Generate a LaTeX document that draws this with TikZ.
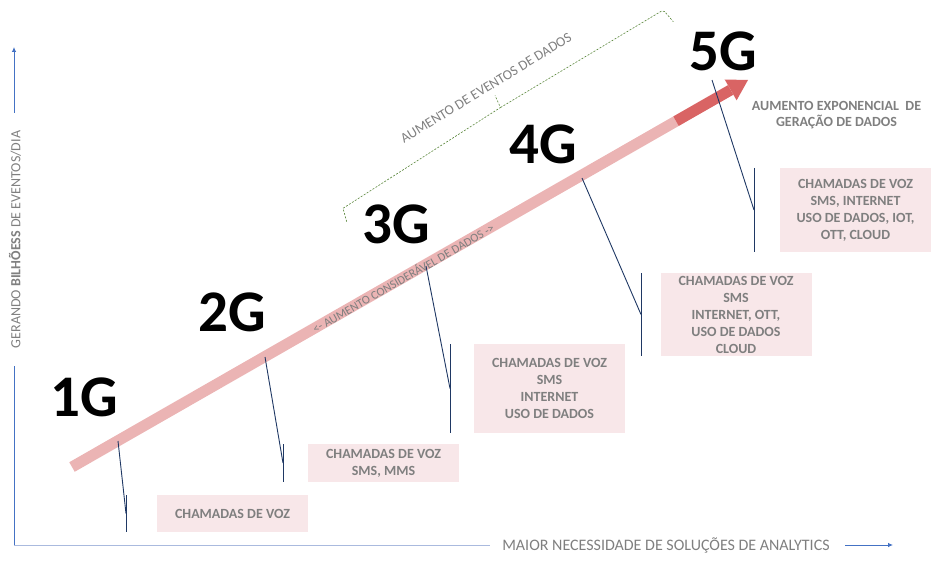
\documentclass[tikz,border=0pt]{standalone}
\usepackage{fontspec}
\setmainfont{Carlito}
\usetikzlibrary{arrows.meta}
\definecolor{pinkline}{RGB}{235,180,180}
\definecolor{redline}{RGB}{217,100,100}
\definecolor{boxfill}{RGB}{248,231,233}
\definecolor{txtgray}{RGB}{127,127,127}
\definecolor{navy}{RGB}{31,56,100}
\definecolor{axisblue}{RGB}{68,114,196}
\definecolor{axislight}{RGB}{170,186,222}
\definecolor{braceg}{RGB}{84,130,53}
\begin{document}
\begin{tikzpicture}[x=1pt,y=-1pt,
  gen/.style={font=\fontsize{59}{60}\selectfont\bfseries, inner sep=0pt, text=black},
  infobox/.style={fill=boxfill, minimum width=151pt, inner sep=0pt, align=center, text=txtgray, font=\fontsize{14}{17}\selectfont\bfseries},
  callout/.style={draw=navy, line width=0.9pt},
  axisline/.style={draw=axisblue, line width=0.8pt},
  axistip/.style={-{Latex[length=5pt,width=4.5pt]}},
  glabel/.style={text=txtgray, inner sep=0pt},
  bracestyle/.style={draw=braceg, line width=0.6pt, dash pattern=on 2pt off 1.5pt, line join=round}]
\useasboundingbox (0,0) rectangle (931,564);

% axes
\coordinate (O) at (14,545);
\coordinate (ytop) at (14,47);
\coordinate (yg1) at (14,366);
\coordinate (yg2) at (14,113);
\coordinate (xg1) at (490,545);
\coordinate (xg2) at (845,545);
\coordinate (xend) at (893,545);
\draw[axisline] (O) -- (yg1);
\draw[axisline, axistip] (yg2) -- (ytop);
\draw[axisline, draw=axislight] (O) -- (xg1);
\draw[axisline, axistip] (xg2) -- (xend);
\node[glabel, rotate=90, font=\fontsize{14}{14}\selectfont] (ylab) at (15,239.5) {GERANDO \textbf{BILHÕESS} DE EVENTOS/DIA};
\node[glabel, font=\fontsize{16}{16}\selectfont] (xlab) at (666,545) {MAIOR NECESSIDADE DE SOLUÇÕES DE ANALYTICS};

% main arrow
\coordinate (A0) at (72,467);
\coordinate (A1) at (676,121.2);
\coordinate (AB) at (730.64,89.94);
\coordinate (AT) at (748,80);
\coordinate (H1) at (724.7,79.5);
\coordinate (H2) at (736.6,100.35);
\draw[pinkline, line width=11pt] (A0) -- (A1);
\draw[redline, line width=11pt] (A1) -- (AB);
\fill[redline] (H1) -- (AT) -- (H2) -- cycle;
\node[glabel, rotate=29.8, font=\fontsize{12}{12}\selectfont] (linelab) at (403,278) {<- AUMENTO CONSIDERÁVEL DE DADOS ->};

% brace
\coordinate (BL0) at (346.7,221.7);
\coordinate (BL1) at (343,208.3);
\coordinate (BM) at (500.5,107.5);
\coordinate (BN) at (495,95.5);
\coordinate (BR1) at (663.3,10);
\coordinate (BR0) at (673.3,21.7);
\draw[bracestyle] (BL0) -- (BL1) -- (BM) -- (BN);
\draw[bracestyle, rounded corners=2pt] (BM) -- (BR1) -- (BR0);
\node[glabel, rotate=31.5, font=\fontsize{14}{14}\selectfont] (bracelab) at (486,88) {AUMENTO DE EVENTOS DE DADOS};

% generation labels
\node[gen] (g1) at (84,397) {1G};
\node[gen] (g2) at (232,312) {2G};
\node[gen] (g3) at (396,224) {3G};
\node[gen] (g4) at (543,144) {4G};
\node[gen] (g5) at (723,51) {5G};

\node[glabel, align=center, font=\fontsize{14}{16.5}\selectfont\bfseries] (expo) at (836.5,115) {AUMENTO EXPONENCIAL\ \ DE\\GERAÇÃO DE DADOS};

% boxes
\node[infobox, minimum height=37pt] (b1) at (232.5,513.5) {CHAMADAS DE VOZ};
\node[infobox, minimum height=38pt] (b2) at (383.5,463) {CHAMADAS DE VOZ\\SMS, MMS};
\node[infobox, minimum height=89pt] (b3) at (549.5,388.5) {CHAMADAS DE VOZ\\SMS\\INTERNET\\USO DE DADOS};
\node[infobox, minimum height=83pt] (b4) at (736,314.5) {CHAMADAS DE VOZ\\SMS\\INTERNET, OTT,\\USO DE DADOS\\CLOUD};
\node[infobox, minimum height=84pt] (b5) at (855.5,210) {CHAMADAS DE VOZ\\SMS, INTERNET\\USO DE DADOS, IOT,\\OTT, CLOUD};

% callouts
\coordinate (s1) at (118,441);   \coordinate (t1) at (126,495); \coordinate (u1) at (126,532); \coordinate (m1) at (126,513.5);
\coordinate (s2) at (265,357);   \coordinate (t2) at (283,444); \coordinate (u2) at (283,482); \coordinate (m2) at (283,463);
\coordinate (s3) at (426,266);   \coordinate (t3) at (450,344); \coordinate (u3) at (450,433); \coordinate (m3) at (450,388.5);
\coordinate (s4) at (582,178);   \coordinate (t4) at (641,273); \coordinate (u4) at (641,356); \coordinate (m4) at (641,314.5);
\coordinate (s5) at (712,80);    \coordinate (t5) at (754,168); \coordinate (u5) at (754,252); \coordinate (m5) at (754,210);
\foreach \i in {1,...,5} {
  \draw[callout] (t\i) -- (u\i);
  \draw[callout] (s\i) -- (m\i);
}
\end{tikzpicture}
\end{document}
